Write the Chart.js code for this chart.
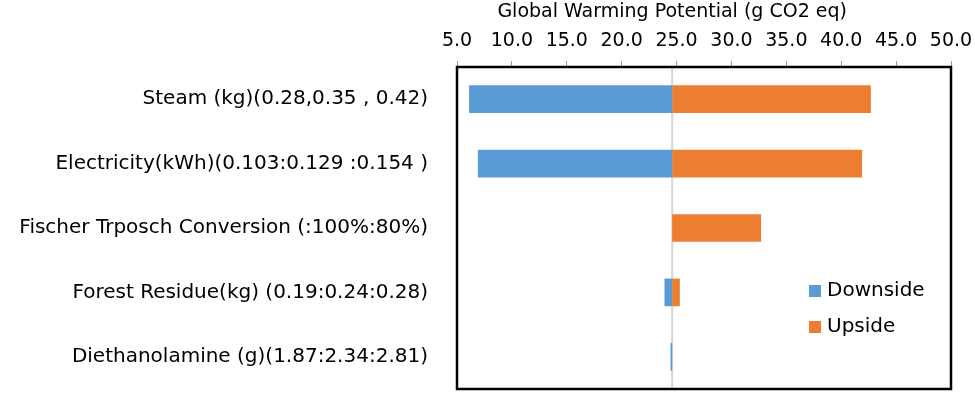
<!DOCTYPE html>
<html>
<head>
<meta charset="utf-8">
<script src="https://cdn.jsdelivr.net/npm/chart.js@4"></script>
<style>
  body { margin: 0; background: #fff; }
  #wrap { width: 975px; height: 393px; position: relative; }
</style>
</head>
<body>
<div id="wrap"><canvas id="gwpChart"></canvas></div>
<script>
// data
const categories = [
    "Steam (kg)(0.28,0.35 , 0.42)",
    "Electricity(kWh)(0.103:0.129 :0.154 )",
    "Fischer Trposch Conversion (:100%:80%)",
    "Forest Residue(kg) (0.19:0.24:0.28)",
    "Diethanolamine (g)(1.87:2.34:2.81)"
];
const baseValue = 24.6;
const downside = [6.1, 6.9, null, 23.9, 24.45];
const upside = [42.7, 41.9, 32.7, 25.3, null];
const xTicks = [5, 10, 15, 20, 25, 30, 35, 40, 45, 50];
const axisTitle = "Global Warming Potential (g CO2 eq)";

const FONT = "'DejaVu Sans', sans-serif";

// gray base line, black frame, title and legend
const decor = {
    id: 'decor',
    beforeDatasetsDraw(chart) {
        const ctx = chart.ctx, a = chart.chartArea;
        const bx = chart.scales.x.getPixelForValue(baseValue);
        ctx.save();
        ctx.strokeStyle = '#d6d6d6';
        ctx.lineWidth = 2;
        ctx.beginPath();
        ctx.moveTo(bx, a.top);
        ctx.lineTo(bx, a.bottom);
        ctx.stroke();
        ctx.restore();
    },
    afterDatasetsDraw(chart) {
        const ctx = chart.ctx, a = chart.chartArea;
        ctx.save();
        ctx.strokeStyle = '#000';
        ctx.lineWidth = 2.5;
        ctx.strokeRect(a.left, a.top, a.right - a.left, a.bottom - a.top);

        // title
        ctx.fillStyle = '#000';
        ctx.font = "19px " + FONT;
        ctx.textAlign = 'center';
        ctx.textBaseline = 'middle';
        ctx.fillText(axisTitle, chart.scales.x.getPixelForValue(baseValue), 12);

        // legend
        ctx.font = "20px " + FONT;
        ctx.textAlign = 'left';
        const lx = a.left + 352;
        chart.data.datasets.forEach((ds, i) => {
            const ly = a.top + 224 + i * 36;
            ctx.fillStyle = ds.backgroundColor;
            ctx.fillRect(lx, ly - 6, 12, 12);
            ctx.fillStyle = '#000';
            ctx.fillText(ds.label, lx + 18, ly);
        });
        ctx.restore();
    }
};

new Chart(document.getElementById('gwpChart'), {
    type: 'bar',
    data: {
        labels: categories,
        datasets: [{
            label: 'Downside',
            data: downside.map(v => v === null ? null : [v, baseValue]),
            backgroundColor: '#5B9BD5',
            borderWidth: 0,
            grouped: false,
            barPercentage: 0.43,
            categoryPercentage: 1
        }, {
            label: 'Upside',
            data: upside.map(v => v === null ? null : [baseValue, v]),
            backgroundColor: '#ED7D31',
            borderWidth: 0,
            grouped: false,
            barPercentage: 0.43,
            categoryPercentage: 1
        }]
    },
    options: {
        indexAxis: 'y',
        responsive: true,
        maintainAspectRatio: false,
        animation: false,
        layout: { padding: { left: 0, right: 24, top: 0, bottom: 4 } },
        scales: {
            x: {
                position: 'top',
                min: 5,
                max: 50,
                afterBuildTicks: s => { s.ticks = xTicks.map(v => ({ value: v })); },
                afterFit: s => {
                    s.height = 67;
                    s.paddingLeft = 0;
                    s.paddingRight = 0;
                },
                ticks: {
                    color: '#000',
                    font: { family: FONT, size: 19 },
                    padding: 9,
                    maxRotation: 0,
                    callback: v => v.toFixed(1)
                },
                grid: {
                    drawOnChartArea: false,
                    drawTicks: true,
                    tickLength: 6,
                    tickColor: '#999',
                    tickWidth: 1
                },
                border: { display: false }
            },
            y: {
                afterFit: s => {
                    s.width = 457;
                    s.paddingTop = 0;
                    s.paddingBottom = 0;
                },
                ticks: {
                    color: '#000',
                    font: { family: FONT, size: 20 },
                    padding: 21
                },
                grid: { display: false },
                border: { display: false }
            }
        },
        plugins: {
            legend: { display: false },
            tooltip: { enabled: false }
        }
    },
    plugins: [decor]
});
</script>
</body>
</html>
